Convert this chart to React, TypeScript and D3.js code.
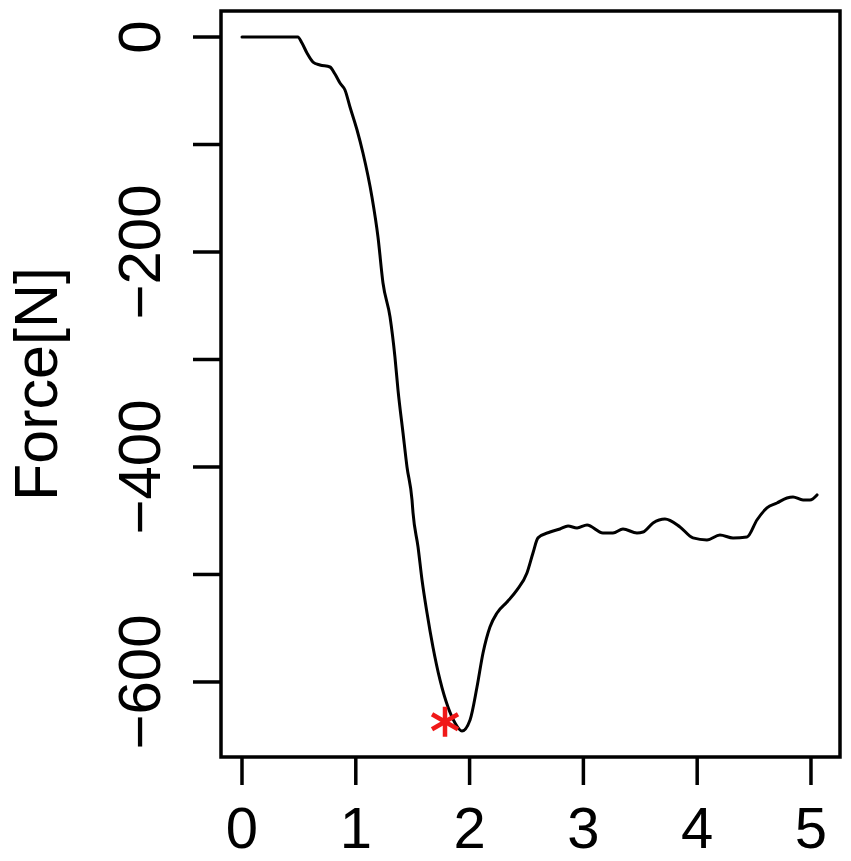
import React from "react";
import * as d3 from "d3";

const timeValues = [0, 0.49, 0.527, 0.571, 0.624, 0.685, 0.773, 0.817, 0.861, 0.905, 0.949, 1.011, 1.063, 1.142, 1.195, 1.239, 1.301, 1.344, 1.371, 1.415, 1.45, 1.494, 1.503, 1.547, 1.582, 1.626, 1.678, 1.74, 1.81, 1.872, 1.933, 2.004, 2.065, 2.118, 2.179, 2.241, 2.329, 2.417, 2.504, 2.557, 2.601, 2.707, 2.794, 2.865, 2.944, 3.032, 3.172, 3.26, 3.348, 3.471, 3.524, 3.612, 3.717, 3.849, 3.963, 4.086, 4.2, 4.315, 4.438, 4.525, 4.613, 4.701, 4.789, 4.842, 4.93, 4.991, 5.053];
const forceValues = [0, 0, -5.6, -14.9, -23.3, -26, -27.9, -34.4, -42.8, -49.3, -65.1, -86.5, -107.9, -148.8, -186, -228.8, -260.5, -297.7, -328.4, -368.4, -400, -430.7, -442.8, -474.4, -505.1, -535.8, -567.4, -598.1, -623.3, -638.1, -645.6, -635.3, -604.7, -573, -548.8, -535.8, -525.6, -514.4, -498.6, -480, -466, -460.5, -457.7, -454.9, -456.7, -454, -461.4, -461.4, -457.7, -461.4, -460.5, -452.1, -448.4, -455.8, -466, -467.9, -463.3, -466, -465.1, -449.3, -438.1, -433.5, -428.8, -427.9, -430.7, -430.7, -426];
const markerPoint = { t: 1.784, f: -637 };
const xTicks = [0, 1, 2, 3, 4, 5];
const yTicks = [0, -100, -200, -300, -400, -500, -600];
const yTickLabels = [0, -200, -400, -600];
const yTitle = "Force[N]";

const W = 851, H = 861;
const L = 221, R = 840, T = 11, B = 757;

export default function App() {
  const x = d3.scaleLinear().domain([-0.1845, 5.255]).range([L, R]);
  const y = d3.scaleLinear().domain([24.2, -669.8]).range([T, B]);
  const pts: [number, number][] = timeValues.map((t, i) => [t, forceValues[i]]);
  const line = d3
    .line<[number, number]>()
    .x(d => x(d[0]))
    .y(d => y(d[1]))
    .curve(d3.curveMonotoneX);
  const fmt = (v: number) => (v < 0 ? "\u2212" + Math.abs(v) : String(v));
  const font = "'Liberation Sans', Arial, Helvetica, sans-serif";
  const mx = x(markerPoint.t), my = y(markerPoint.f);
  const r = 15;
  const arms = [90, 30, -30].map(a => {
    const rad = (a * Math.PI) / 180;
    return [mx - r * Math.cos(rad), my - r * Math.sin(rad), mx + r * Math.cos(rad), my + r * Math.sin(rad)];
  });
  return (
    <svg width={W} height={H} style={{ position: "absolute", left: 0, top: 0, background: "#fff" }} fontFamily={font}>
      <rect x={0} y={0} width={W} height={H} fill="#fff" />
      <path d={line(pts) || ""} fill="none" stroke="#000" strokeWidth={3} strokeLinejoin="round" strokeLinecap="round" />
      {arms.map((a, i) => (
        <line key={i} x1={a[0]} y1={a[1]} x2={a[2]} y2={a[3]} stroke="#f01818" strokeWidth={4.5} />
      ))}
      <rect x={L} y={T} width={R - L} height={B - T} fill="none" stroke="#000" strokeWidth={3.5} />
      {xTicks.map(t => (
        <g key={t}>
          <line x1={x(t)} x2={x(t)} y1={B} y2={B + 28} stroke="#000" strokeWidth={3.5} />
          <text x={x(t)} y={848} textAnchor="middle" fontSize={58} fill="#000">{fmt(t)}</text>
        </g>
      ))}
      {yTicks.map(t => (
        <line key={t} x1={L - 28} x2={L} y1={y(t)} y2={y(t)} stroke="#000" strokeWidth={3.5} />
      ))}
      {yTickLabels.map(t => (
        <text key={t} transform={`translate(160,${y(t)}) rotate(-90)`} textAnchor="middle" fontSize={60} fill="#000">{fmt(t)}</text>
      ))}
      <text transform={`translate(57,${(T + B) / 2}) rotate(-90)`} textAnchor="middle" fontSize={61} fill="#000">{yTitle}</text>
    </svg>
  );
}
